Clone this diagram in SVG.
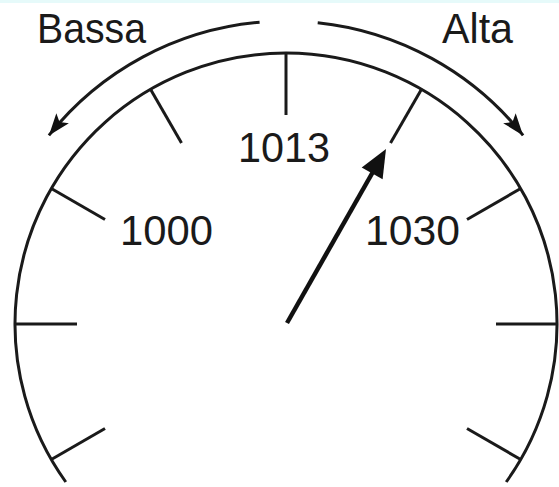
<svg xmlns="http://www.w3.org/2000/svg" width="559" height="487" viewBox="0 0 559 487">
<style>
.ln{stroke:#1a1a1a;stroke-width:3;fill:none;stroke-linecap:butt}
.tk{stroke:#1a1a1a;stroke-width:3;fill:none}
.lbl{font-family:"Liberation Sans",Arial,sans-serif;font-size:43px;fill:#1a1a1a}
</style>
<defs>
<marker id="ah" markerUnits="userSpaceOnUse" markerWidth="24" markerHeight="18" refX="22" refY="8" orient="auto">
<path d="M0,0 L22,8 L0,16 L5,8 z" fill="#111"/>
</marker>
</defs>
<rect x="0" y="0" width="559" height="487" fill="#fff"/>
<rect x="0" y="0" width="559" height="3" fill="#e6fafa"/>
<g id="dial">
<path class="ln" d="M65.8,482 A271,271 0 1 1 506.2,482"/>
</g>
<g id="ticks">
<line class="tk" x1="286" y1="53" x2="286" y2="115"/>
<line class="tk" x1="421.5" y1="89.3" x2="390.5" y2="143"/>
<line class="tk" x1="150.5" y1="89.3" x2="181.5" y2="143"/>
<line class="tk" x1="520.7" y1="188.5" x2="467" y2="219.5"/>
<line class="tk" x1="51.3" y1="188.5" x2="105" y2="219.5"/>
<line class="tk" x1="557" y1="324" x2="496" y2="324"/>
<line class="tk" x1="15" y1="324" x2="77" y2="324"/>
<line class="tk" x1="520.7" y1="459.5" x2="467" y2="428.5"/>
<line class="tk" x1="51.3" y1="459.5" x2="105" y2="428.5"/>
</g>
<g id="connectors">
<path class="ln" d="M259.6,22.2 A303,303 0 0 0 48.9,135.4" marker-end="url(#ah)"/>
<path class="ln" d="M317.7,22.7 A303,303 0 0 1 523.1,135.4" marker-end="url(#ah)"/>
</g>
<g id="needle">
<line x1="287" y1="323" x2="374" y2="170" stroke="#111" stroke-width="4.5"/>
<polygon points="386,149 382.6,179.2 361.7,167.4" fill="#111"/>
</g>
<g id="labels">
<text class="lbl" x="37" y="43" textLength="109" lengthAdjust="spacingAndGlyphs">Bassa</text>
<text class="lbl" x="442" y="43" textLength="71" lengthAdjust="spacingAndGlyphs">Alta</text>
<text class="lbl" x="238" y="162" textLength="92" lengthAdjust="spacingAndGlyphs">1013</text>
<text class="lbl" x="120" y="245" textLength="93" lengthAdjust="spacingAndGlyphs">1000</text>
<text class="lbl" x="365" y="245" textLength="95" lengthAdjust="spacingAndGlyphs">1030</text>
</g>
</svg>
